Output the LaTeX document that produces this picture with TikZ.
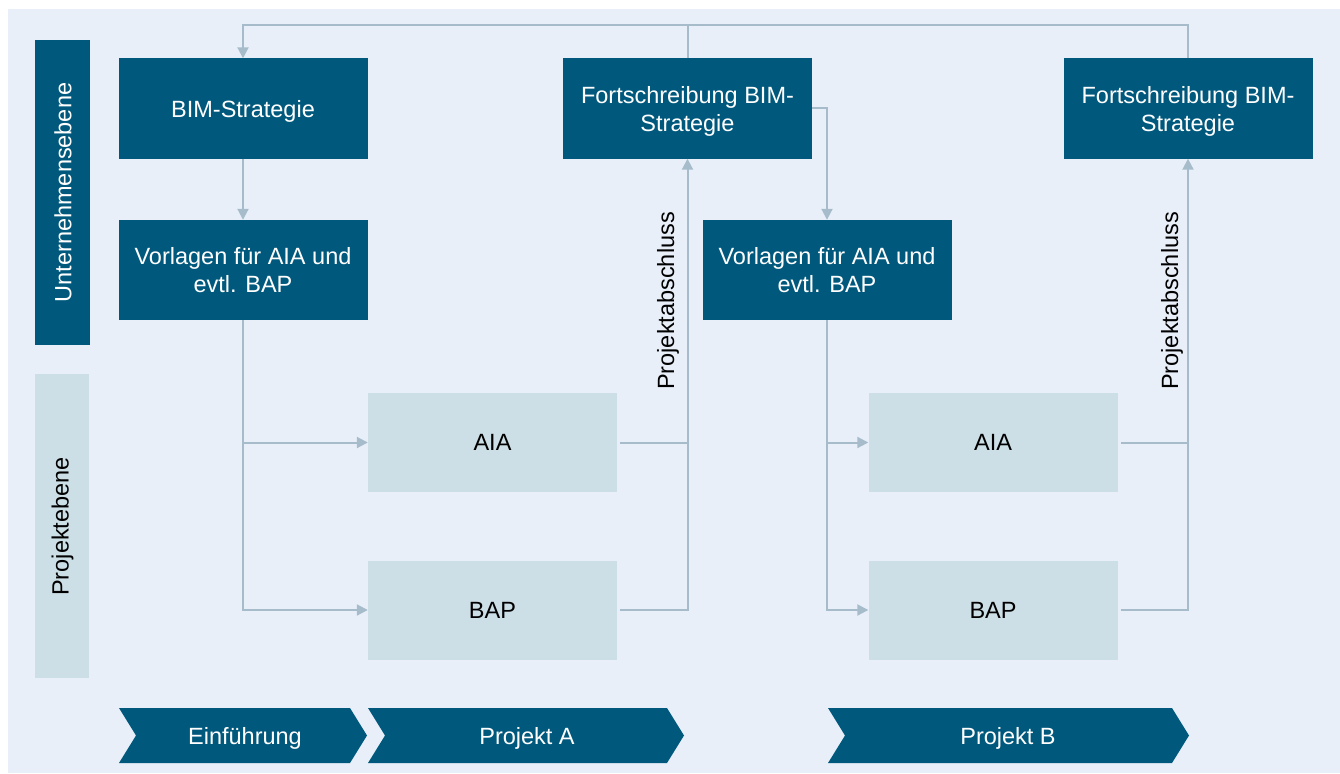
\documentclass[tikz,border=0pt]{standalone}
\usepackage{fontspec}
\setmainfont{Liberation Sans}
\usetikzlibrary{arrows.meta}
\definecolor{dkblue}{HTML}{00597D}
\definecolor{ltblue}{HTML}{CCDEE6}
\definecolor{bgblue}{HTML}{E8EFF9}
\definecolor{conncol}{HTML}{A6BCCA}
\tikzset{
  txt/.style={font=\fontsize{23.5}{28}\selectfont},
  darkbox/.style={txt, fill=dkblue, text=white, minimum width=249pt, minimum height=100pt, inner sep=0pt, align=center},
  lightbox/.style={txt, fill=ltblue, text=black, minimum width=249pt, minimum height=99pt, inner sep=0pt, align=center},
  whitetxt/.style={txt, text=white, align=center, inner sep=0pt},
  line/.style={draw=conncol, line width=2pt},
  conn/.style={line, -{Triangle[length=11pt,width=11pt]}},
  chev/.style={fill=dkblue},
  chevtxt/.style={txt, text=white, inner sep=0pt},
}
\begin{document}
\begin{tikzpicture}[x=1pt,y=-1pt]
\useasboundingbox (0,0) rectangle (1340,773);
\fill[white] (0,0) rectangle (1340,773);
\fill[bgblue] (8,9) rectangle (1340,773);

% level bars
\node[fill=dkblue, minimum width=55pt, minimum height=305pt, inner sep=0pt] (ue) at (62.5,192.5) {};
\node[txt, text=white, rotate=90] (uet) at (63,192.5) {Unternehmensebene};
\node[fill=ltblue, minimum width=54pt, minimum height=304pt, inner sep=0pt] (pe) at (62,526) {};
\node[txt, text=black, rotate=90] (pet) at (62.5,526.5) {Projektebene};

% boxes
\node[darkbox] (bims) at (243,108.5) {};
\node[whitetxt] (bimst) at ([yshift=-2.5pt]bims.center) {BIM-Strategie};
\node[darkbox] (fort1) at (687.5,108.5) {};
\node[whitetxt] (fort1t) at ([yshift=-2.5pt]fort1.center) {Fortschreibung BIM-\\Strategie};
\node[darkbox] (fort2) at (1188,108.5) {};
\node[whitetxt] (fort2t) at ([yshift=-2.5pt]fort2.center) {Fortschreibung BIM-\\Strategie};
\node[darkbox] (vor1) at (243,270) {Vorlagen für AIA und\\evtl. BAP};
\node[darkbox] (vor2) at (827,270) {Vorlagen für AIA und\\evtl. BAP};
\node[lightbox] (aia1) at (492.5,442.5) {AIA};
\node[lightbox] (bap1) at (492.5,610) {BAP};
\node[lightbox] (aia2) at (993,442.5) {AIA};
\node[lightbox] (bap2) at (993,610) {BAP};

% labels
\node[txt, rotate=90] (pa1) at (668,301) {Projektabschluss};
\node[txt, rotate=90] (pa2) at (1172,301) {Projektabschluss};

% connectors
\coordinate (topy) at (0,25);
\draw[conn] (fort2.north) -- (fort2.north |- topy) -| (bims.north);
\draw[line] (fort1.north) -- (fort1.north |- topy);
\draw[conn] (bims.south) -- (vor1.north);
\draw[conn] (vor1.south) |- (bap1.west);
\draw[conn] (vor1.south |- aia1.west) -- (aia1.west);
\draw[line, shorten <=3pt] (aia1.east) -- (aia1.east -| fort1.south);
\draw[conn, shorten <=3pt] (bap1.east) -| (fort1.south);
\draw[conn] (fort1.east) -| (vor2.north);
\draw[conn] (vor2.south) |- (bap2.west);
\draw[conn] (vor2.south |- aia2.west) -- (aia2.west);
\draw[line, shorten <=3pt] (aia2.east) -- (aia2.east -| fort2.south);
\draw[conn, shorten <=3pt] (bap2.east) -| (fort2.south);

% chevrons
\fill[chev] (119,708) -- (350,708) -- (367,735.5) -- (350,763) -- (119,763) -- (136,735.5) -- cycle;
\node[chevtxt] (c1) at (245,738) {Einführung};
\fill[chev] (368,708) -- (667,708) -- (684,735.5) -- (667,763) -- (368,763) -- (385,735.5) -- cycle;
\node[chevtxt] (c2) at (527,738) {Projekt A};
\fill[chev] (828,708) -- (1172,708) -- (1189,735.5) -- (1172,763) -- (828,763) -- (845,735.5) -- cycle;
\node[chevtxt] (c3) at (1008,738) {Projekt B};
\end{tikzpicture}
\end{document}
